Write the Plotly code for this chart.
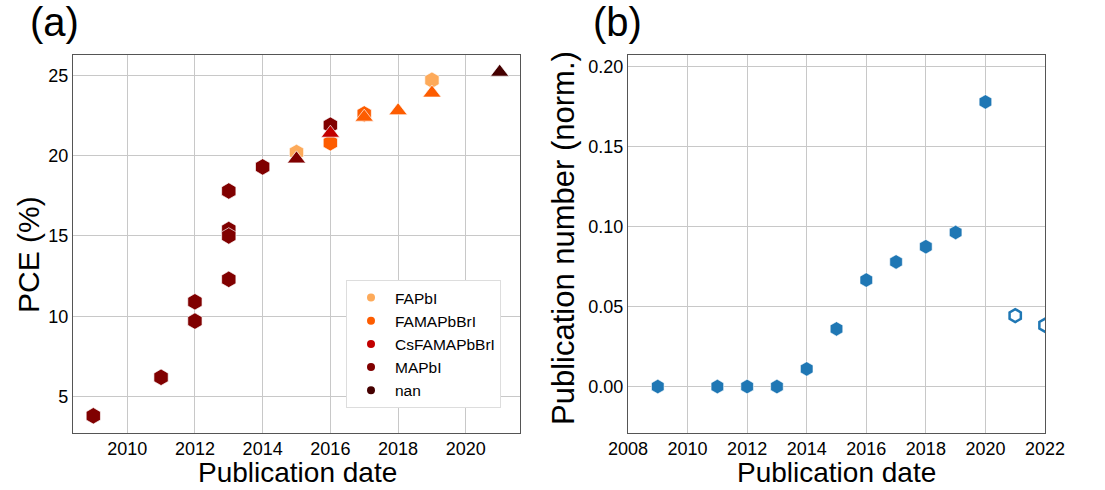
import plotly.graph_objects as go

# ---------------- data ----------------
# Panel (a): PCE vs publication year, hexagon points
hex_year = [2009, 2011, 2012, 2012, 2013, 2013, 2013, 2013, 2014, 2015, 2016, 2016, 2017, 2019]
hex_pce = [3.8, 6.2, 10.9, 9.7, 17.8, 15.4, 15.0, 12.3, 19.3, 20.2, 21.9, 20.8, 22.6, 24.7]
hex_cat = ["MAPbI", "MAPbI", "MAPbI", "MAPbI", "MAPbI", "MAPbI", "MAPbI", "MAPbI", "MAPbI",
           "FAPbI", "MAPbI", "FAMAPbBrI", "FAMAPbBrI", "FAPbI"]

# Panel (a): triangle points
tri_year = [2015, 2016, 2017, 2018, 2019, 2021]
tri_pce = [19.8, 21.4, 22.4, 22.8, 23.9, 25.2]
tri_cat = ["MAPbI", "CsFAMAPbBrI", "FAMAPbBrI", "FAMAPbBrI", "FAMAPbBrI", "nan"]

categories = ["FAPbI", "FAMAPbBrI", "CsFAMAPbBrI", "MAPbI", "nan"]
cat_colors = {"FAPbI": "#FDAA5A", "FAMAPbBrI": "#FD5C00", "CsFAMAPbBrI": "#C20000",
              "MAPbI": "#800000", "nan": "#450000"}

# Panel (b): normalised publication number
pub_year = [2009, 2011, 2012, 2013, 2014, 2015, 2016, 2017, 2018, 2019, 2020]
pub_norm = [0.0, 0.0, 0.0, 0.0, 0.011, 0.036, 0.0665, 0.0778, 0.0873, 0.0962, 0.1777]
pub_year_open = [2021, 2022]
pub_norm_open = [0.0443, 0.0383]

a_xticks = [2010, 2012, 2014, 2016, 2018, 2020]
a_yticks = [5, 10, 15, 20, 25]
b_xticks = [2008, 2010, 2012, 2014, 2016, 2018, 2020, 2022]
b_yticks = [0.0, 0.05, 0.10, 0.15, 0.20]

x_title = "Publication date"
a_y_title = "PCE (%)"
b_y_title = "Publication number (norm.)"

# ---------------- figure ----------------
W, H = 1105, 490
FONT = "Liberation Sans, Arial, sans-serif"
fig = go.Figure()

fig.add_trace(go.Scatter(
    x=hex_year, y=hex_pce, mode="markers", showlegend=False,
    marker=dict(symbol="hexagon", size=16.5, color=[cat_colors[c] for c in hex_cat],
                line=dict(color="rgba(255,255,255,0.85)", width=0.8)),
    xaxis="x", yaxis="y"))
fig.add_trace(go.Scatter(
    x=tri_year, y=tri_pce, mode="markers", showlegend=False,
    marker=dict(symbol="triangle-up", size=16, color=[cat_colors[c] for c in tri_cat],
                line=dict(color="rgba(255,255,255,0.85)", width=0.8)),
    xaxis="x", yaxis="y"))

# legend entries (circle markers)
for c in categories:
    fig.add_trace(go.Scatter(
        x=[None], y=[None], mode="markers", name=c, showlegend=True,
        marker=dict(symbol="circle", size=8, color=cat_colors[c]),
        xaxis="x", yaxis="y"))

blue = "#1f77b4"
fig.add_trace(go.Scatter(
    x=pub_year, y=pub_norm, mode="markers", showlegend=False,
    marker=dict(symbol="hexagon", size=14.5, color=blue,
                line=dict(color="rgba(255,255,255,0.7)", width=0.8)),
    xaxis="x2", yaxis="y2"))
fig.add_trace(go.Scatter(
    x=pub_year_open, y=pub_norm_open, mode="markers", showlegend=False,
    marker=dict(symbol="hexagon", size=13, color="white",
                line=dict(color=blue, width=2.5)),
    xaxis="x2", yaxis="y2"))

def px_x(p):
    return p / W

def px_y(p):
    return 1 - p / H

axis_common = dict(
    showgrid=True, gridcolor="#c8c8c8", gridwidth=1,
    showline=True, linecolor="#555555", linewidth=1.3, mirror=True,
    zeroline=False, ticks="", automargin=False,
    tickfont=dict(family=FONT, size=18, color="black"),
)

title_font = dict(family=FONT, size=28, color="black")

def label(text, xp, yp, angle=0, size=None):
    f = dict(title_font)
    if size:
        f["size"] = size
    return dict(text=text, x=px_x(xp), y=px_y(yp), xref="paper", yref="paper",
                showarrow=False, font=f, textangle=angle,
                xanchor="center", yanchor="middle", borderpad=0)

fig.update_layout(
    width=W, height=H,
    margin=dict(l=0, r=0, t=0, b=0),
    paper_bgcolor="white", plot_bgcolor="white",
    font=dict(family=FONT, color="black"),
    xaxis=dict(domain=[px_x(73), px_x(520)], range=[2008.4, 2021.6],
               tickvals=a_xticks, anchor="y", ticklabelstandoff=-1, **axis_common),
    yaxis=dict(domain=[px_y(433), px_y(55)], range=[2.73, 26.27],
               tickvals=a_yticks, anchor="x", **axis_common),
    xaxis2=dict(domain=[px_x(628), px_x(1045)], range=[2008, 2022],
                tickvals=b_xticks, anchor="y2", ticklabelstandoff=-1, **axis_common),
    yaxis2=dict(domain=[px_y(433), px_y(55)], range=[-0.029, 0.207],
                tickvals=b_yticks, tickformat=".2f", anchor="x2", **axis_common),
    legend=dict(
        x=px_x(346), y=px_y(280), xanchor="left", yanchor="top",
        bgcolor="white", bordercolor="#dddddd", borderwidth=1,
        font=dict(family=FONT, size=15.5, color="black"),
        itemwidth=38, tracegroupgap=0,
    ),
    annotations=[
        label(x_title, 297, 472),
        label(x_title, 836, 472),
        label(a_y_title, 28, 255, angle=-90, size=30),
        label(b_y_title, 563, 238, angle=-90, size=31),
        label("(a)", 54, 22, size=40),
        label("(b)", 617, 22, size=40),
    ],
)

fig.write_html("out.html")
